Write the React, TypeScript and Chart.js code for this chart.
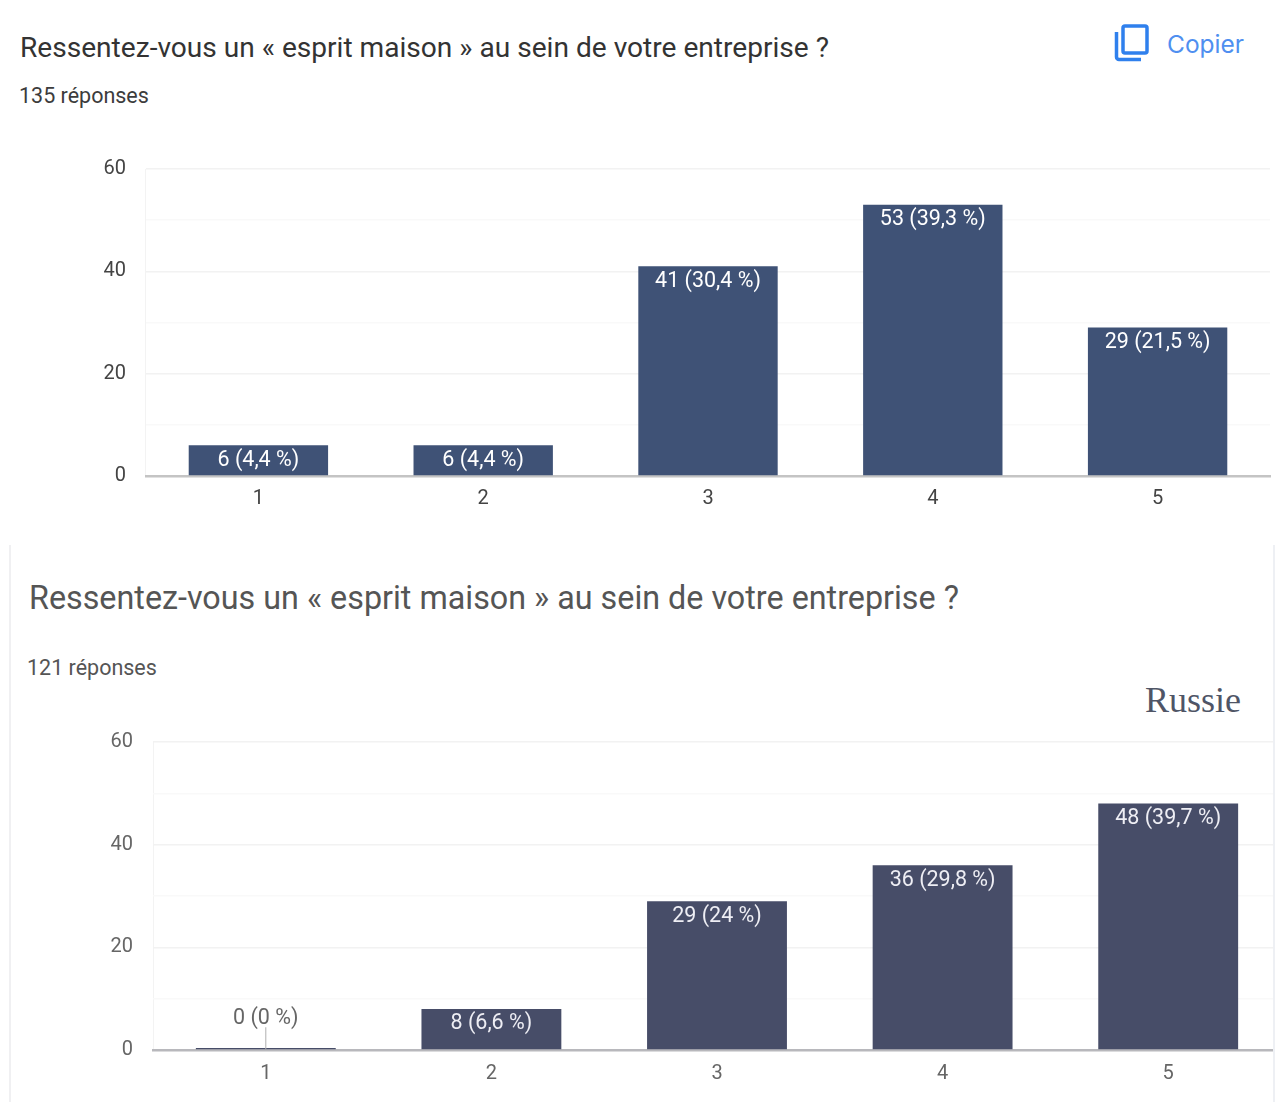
import React, { useEffect, useRef } from "react";
import { Chart, registerables } from "chart.js";

Chart.register(...registerables);

const categories = ["1", "2", "3", "4", "5"];
const topValues = [6, 6, 41, 53, 29];
const topLabels = ["6 (4,4 %)", "6 (4,4 %)", "41 (30,4 %)", "53 (39,3 %)", "29 (21,5 %)"];
const bottomValues = [0, 8, 29, 36, 48];
const bottomLabels = ["0 (0 %)", "8 (6,6 %)", "29 (24 %)", "36 (29,8 %)", "48 (39,7 %)"];
const yMax = 60;
const yMinorStep = 10;
const yLabelStep = 20;

const FONT = "Roboto, 'Liberation Sans', Arial, sans-serif";

type PanelProps = {
  values: number[];
  labels: string[];
  barColor: string;
  tickColor: string;
  labelColor: string;
  axisColor: string;
  left: number;
  top: number;
  width: number;
  height: number;
  yAxisWidth: number;
  paddingTop: number;
  paddingRight: number;
  xAxisHeight: number;
  xTickPadding: number;
};

function Panel(p: PanelProps) {
  const ref = useRef<HTMLCanvasElement>(null);
  useEffect(() => {
    if (!ref.current) return;
    const barLabels = {
      id: "barLabels",
      afterDatasetsDraw(chart: any) {
        const { ctx } = chart;
        const meta = chart.getDatasetMeta(0);
        ctx.save();
        ctx.font = `21.5px ${FONT}`;
        ctx.textAlign = "center";
        ctx.textBaseline = "middle";
        meta.data.forEach((bar: any, i: number) => {
          if (p.values[i] === 0) {
            ctx.strokeStyle = "#b0b0b0";
            ctx.lineWidth = 1;
            ctx.beginPath();
            ctx.moveTo(bar.x, bar.base);
            ctx.lineTo(bar.x, bar.base - 22);
            ctx.stroke();
            ctx.fillStyle = "#666666";
            ctx.fillText(p.labels[i], bar.x, bar.base - 31);
          } else {
            ctx.fillStyle = p.labelColor;
            ctx.fillText(p.labels[i], bar.x, bar.y + 15);
          }
        });
        ctx.restore();
      },
    };
    const chart = new Chart(ref.current, {
      type: "bar",
      data: {
        labels: categories,
        datasets: [
          {
            data: p.values,
            backgroundColor: p.barColor,
            categoryPercentage: 1,
            barPercentage: 0.62,
            minBarLength: 2,
          },
        ],
      },
      options: {
        animation: false,
        responsive: false,
        layout: { padding: { top: p.paddingTop, right: p.paddingRight, left: 0, bottom: 0 } },
        plugins: { legend: { display: false }, tooltip: { enabled: false } },
        scales: {
          x: {
            afterFit: (s: any) => {
              s.height = p.xAxisHeight;
            },
            grid: {
              drawTicks: false,
              color: (c: any) => (c.index === 0 || c.index === categories.length ? "#f3f3f3" : "transparent"),
            },
            border: { color: p.axisColor, width: 2.5 },
            ticks: {
              padding: p.xTickPadding,
              color: p.tickColor,
              font: { family: FONT, size: 20 },
              maxRotation: 0,
            },
          },
          y: {
            min: 0,
            max: yMax,
            afterFit: (s: any) => {
              s.width = p.yAxisWidth;
            },
            grid: {
              drawTicks: false,
              color: (c: any) => {
                const v = c.tick.value;
                if (v === 0) return "transparent";
                return v % yLabelStep === 0 ? "#f2f2f2" : "#f9f9f9";
              },
              lineWidth: 1.5,
            },
            border: { display: false },
            ticks: {
              stepSize: yMinorStep,
              padding: 20,
              color: p.tickColor,
              font: { family: FONT, size: 20 },
              callback: (v: any) => (Number(v) % yLabelStep === 0 ? String(v) : ""),
            },
          },
        },
      },
      plugins: [barLabels],
    } as any);
    return () => chart.destroy();
  }, []);
  return (
    <canvas
      ref={ref}
      width={p.width}
      height={p.height}
      style={{ position: "absolute", left: p.left, top: p.top, width: p.width, height: p.height, display: "block" }}
    />
  );
}

const text = (
  left: number,
  top: number,
  size: number,
  color: string,
  extra: React.CSSProperties = {}
): React.CSSProperties => ({
  position: "absolute",
  left,
  top,
  fontFamily: FONT,
  fontSize: size,
  lineHeight: `${Math.round(size * 1.2)}px`,
  color,
  whiteSpace: "nowrap",
  ...extra,
});

export default function App() {
  useEffect(() => {
    document.body.style.margin = "0";
    document.body.style.background = "#fff";
  }, []);
  return (
    <div
      style={{
        position: "relative",
        width: 1275,
        height: 1102,
        overflow: "hidden",
        background: "#fff",
        filter: "blur(0.6px)",
      }}
    >
      <div style={text(20, 31, 28.1, "#333333")}>Ressentez-vous un « esprit maison » au sein de votre entreprise ?</div>
      <div style={text(19, 83, 21.5, "#3c3c3c")}>135 réponses</div>
      <svg
        style={{ position: "absolute", left: 1113, top: 23, width: 36, height: 40 }}
        viewBox="0 0 36 40"
        fill="none"
        stroke="#2f80ed"
        strokeWidth="3.5"
      >
        <rect x="10" y="3" width="24" height="27" rx="2" />
        <path d="M3.5 9 V34 a2.5 2.5 0 0 0 2.5 2.5 H28" />
      </svg>
      <div style={text(1167, 30, 24.5, "#4f8ff0", { fontFamily: "Inter, 'Open Sans', sans-serif" })}>Copier</div>

      <Panel
        values={topValues}
        labels={topLabels}
        barColor="#3f5276"
        tickColor="#444444"
        labelColor="#ffffff"
        axisColor="#c4c4c4"
        left={0}
        top={131}
        width={1275}
        height={390}
        yAxisWidth={146}
        paddingTop={38}
        paddingRight={5}
        xAxisHeight={45}
        xTickPadding={11}
      />

      <div style={{ position: "absolute", left: 9, top: 545, width: 2, height: 557, background: "#f0f0f2" }} />
      <div style={text(29, 579, 32.3, "#555555")}>Ressentez-vous un « esprit maison » au sein de votre entreprise ?</div>
      <div style={text(27, 655, 21.5, "#555555")}>121 réponses</div>
      <div style={text(1145, 679, 36, "#4f5566", { fontFamily: "'Liberation Serif', serif" })}>Russie</div>

      <div style={{ position: "absolute", left: 0, top: 0, width: 1274, height: 1102, overflow: "hidden" }}>
        <Panel
          values={bottomValues}
          labels={bottomLabels}
          barColor="#474d68"
          tickColor="#666666"
          labelColor="#eeeef4"
          axisColor="#b8b8bc"
          left={0}
          top={701}
          width={1290}
          height={401}
          yAxisWidth={153}
          paddingTop={41}
          paddingRight={9}
          xAxisHeight={52}
          xTickPadding={12}
        />
      </div>
      <div style={{ position: "absolute", left: 1273, top: 545, width: 2, height: 557, background: "#eef0f4" }} />
    </div>
  );
}
